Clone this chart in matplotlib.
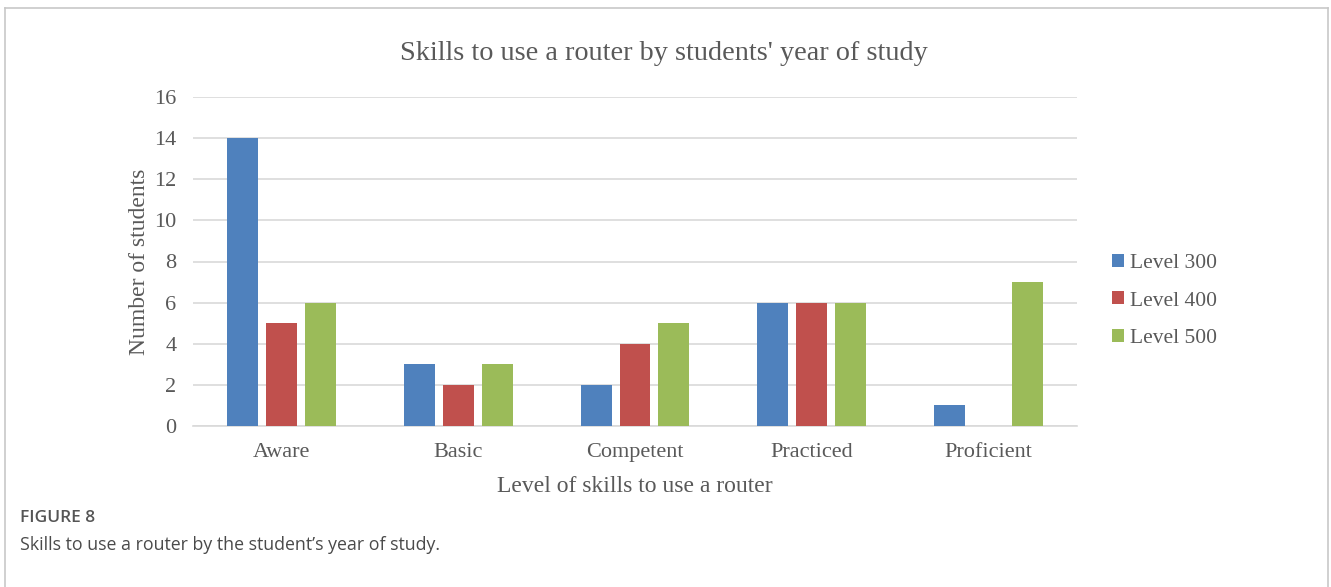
import numpy as np
import matplotlib.pyplot as plt
from matplotlib.lines import Line2D

categories = ["Aware", "Basic", "Competent", "Practiced", "Proficient"]
series_names = ["Level 300", "Level 400", "Level 500"]
level_300 = [14, 3, 2, 6, 1]
level_400 = [5, 2, 4, 6, 0]
level_500 = [6, 3, 5, 6, 7]
yticks = [0, 2, 4, 6, 8, 10, 12, 14, 16]

colors = ["#4F81BD", "#C0504D", "#9BBB59"]
text_col = "#595959"

plt.rcParams["font.family"] = ["Liberation Serif", "DejaVu Serif"]

fig = plt.figure(figsize=(13.31, 5.87), dpi=100)
ax = fig.add_axes([193 / 1331, 1 - 426 / 587, 884 / 1331, 329 / 587])

x = np.arange(len(categories))
width = 0.175
offsets = [-0.22, 0.0, 0.22]
for vals, off, c, name in zip([level_300, level_400, level_500], offsets, colors, series_names):
    ax.bar(x + off, vals, width, color=c, label=name, zorder=3)

ax.set_xlim(-0.5, len(categories) - 0.5)
ax.set_ylim(0, 16)
ax.set_yticks(yticks)
ax.set_xticks(x)
ax.set_xticklabels(categories)
ax.grid(axis="y", color="#D9D9D9", lw=1.2, zorder=0)
for s in ["top", "right", "left"]:
    ax.spines[s].set_visible(False)
ax.spines["bottom"].set_color("#D9D9D9")
ax.spines["bottom"].set_linewidth(1.2)
ax.tick_params(length=0, labelsize=16, labelcolor=text_col, pad=12)
ax.tick_params(axis="y", pad=12)

ax.set_ylabel("Number of students", fontsize=17, color=text_col, labelpad=3)
ax.set_xlabel("Level of skills to use a router", fontsize=17, color=text_col, labelpad=10)
fig.text(0.4988, 1 - 54 / 587, "Skills to use a router by students' year of study",
         fontsize=20.3, color=text_col, ha="center", va="center")

leg = ax.legend(loc="center left", bbox_to_anchor=(1.018, 0.38), frameon=False,
                fontsize=15.5, handlelength=0.55, handleheight=0.55,
                handletextpad=0.25, labelspacing=0.85, labelcolor=text_col)

# outer frame and caption
frame = dict(color="#C8C8C8", lw=1.2, transform=fig.transFigure)
fig.add_artist(Line2D([5 / 1331, 5 / 1331], [0, 1 - 8 / 587], **frame))
fig.add_artist(Line2D([1328 / 1331, 1328 / 1331], [0, 1 - 8 / 587], **frame))
fig.add_artist(Line2D([5 / 1331, 1328 / 1331], [1 - 8 / 587, 1 - 8 / 587], **frame))

fig.text(20 / 1331, 1 - 518 / 587, "FIGURE 8", family="Open Sans", fontsize=12.5,
         weight="semibold", color="#555555", ha="left", va="center")
fig.text(20 / 1331, 1 - 545 / 587, "Skills to use a router by the student\u2019s year of study.",
         family="Open Sans", fontsize=12.8, color="#4A4A4A", ha="left", va="center")

fig.savefig("out.png", dpi=100)
